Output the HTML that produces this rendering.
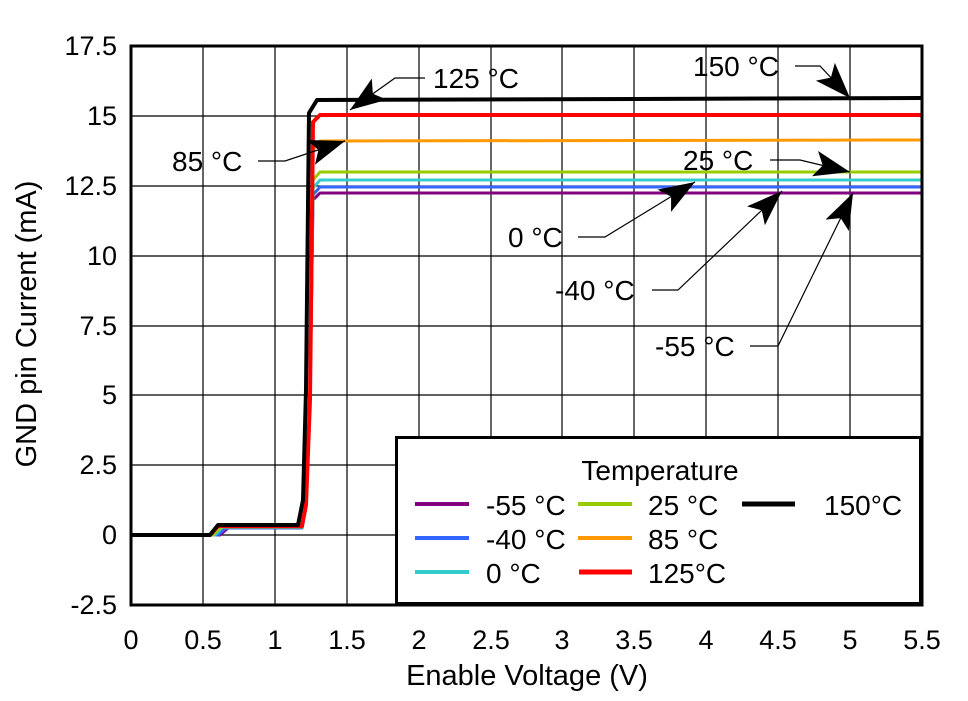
<!DOCTYPE html>
<html><head><meta charset="utf-8"><style>body{margin:0;background:#fff}svg{display:block}text{font-family:"Liberation Sans",Arial,sans-serif}</style></head><body>
<svg width="968" height="701" viewBox="0 0 968 701">
<defs><marker id="a" markerUnits="userSpaceOnUse" markerWidth="40" markerHeight="30" refX="36" refY="13" orient="auto"><path d="M0,0 L36,13 L0,26 L8,13 Z" fill="#000"/></marker></defs>
<rect width="968" height="701" fill="#fff"/>
<g stroke="#000" stroke-width="1.2">
<line x1="203" y1="46" x2="203" y2="605"/><line x1="275" y1="46" x2="275" y2="605"/><line x1="347" y1="46" x2="347" y2="605"/><line x1="419" y1="46" x2="419" y2="605"/><line x1="491" y1="46" x2="491" y2="605"/><line x1="562" y1="46" x2="562" y2="605"/><line x1="634" y1="46" x2="634" y2="605"/><line x1="706" y1="46" x2="706" y2="605"/><line x1="778" y1="46" x2="778" y2="605"/><line x1="850" y1="46" x2="850" y2="605"/>
<line x1="131" y1="116" x2="922" y2="116"/><line x1="131" y1="186" x2="922" y2="186"/><line x1="131" y1="256" x2="922" y2="256"/><line x1="131" y1="326" x2="922" y2="326"/><line x1="131" y1="395" x2="922" y2="395"/><line x1="131" y1="465" x2="922" y2="465"/><line x1="131" y1="535" x2="922" y2="535"/>
</g>
<g fill="none" stroke-width="3" stroke-linejoin="round">
<polyline stroke="#800080" points="131,535 220,535 228,528 302,528 306,505 310,400 313,200 320,193 922,193"/>
<polyline stroke="#3366ff" points="131,535 218,535 226,528 302,528 306,505 310,400 313,195 320,187 922,187"/>
<polyline stroke="#33cccc" points="131,535 215,535 223,527 302,527 306,505 310,400 313,188 320,180 922,180"/>
<polyline stroke="#99cc00" points="131,535 213,535 221,527 302,527 306,505 310,400 313,180 320,172 922,172"/>
<polyline stroke="#ff9900" points="131,535 211,535 219,526 302,526 306,505 310,400 313,150 320,141 922,140"/>
<polyline stroke="#ff0000" stroke-width="4" points="131,535 210,535 218,526 302,526 306,505 310,400 313,122 320,115 922,115"/>
<polyline stroke="#000" stroke-width="4" points="131,535 210,535 218,525 298,525 303,500 306,390 309,113 317,100 922,98"/>
</g>
<g stroke="#000" stroke-width="1.2" fill="none">
<polyline points="425,78 395,78 350,110" marker-end="url(#a)"/>
<polyline points="795,66 820,66 850,98" marker-end="url(#a)"/>
<polyline points="258,161 285,161 345,141" marker-end="url(#a)"/>
<polyline points="770,160 800,160 850,172" marker-end="url(#a)"/>
<polyline points="578,237 605,237 695,182" marker-end="url(#a)"/>
<polyline points="652,290 678,290 782,191" marker-end="url(#a)"/>
<polyline points="750,346 778,346 853,193" marker-end="url(#a)"/>
</g>
<g font-size="28" fill="#000">
<text x="433" y="88">125 °C</text><text x="693" y="76">150 °C</text><text x="172" y="171">85 °C</text><text x="683" y="170">25 °C</text><text x="508" y="247">0 °C</text><text x="555" y="300">-40 °C</text><text x="655" y="356">-55 °C</text>
</g>
<rect x="396.5" y="437.5" width="524" height="166" fill="#fff" stroke="#000" stroke-width="3"/>
<g font-size="28">
<text x="660" y="480" text-anchor="middle">Temperature</text>
<text x="486" y="515">-55 °C</text><text x="486" y="549">-40 °C</text><text x="486" y="583">0 °C</text>
<text x="648" y="515">25 °C</text><text x="648" y="549">85 °C</text><text x="648" y="583">125°C</text>
<text x="824" y="515">150°C</text>
</g>
<g stroke-width="4">
<line x1="415" y1="504" x2="469" y2="504" stroke="#800080"/><line x1="415" y1="538" x2="469" y2="538" stroke="#3366ff"/><line x1="415" y1="572" x2="469" y2="572" stroke="#33cccc"/>
<line x1="578" y1="504" x2="632" y2="504" stroke="#99cc00"/><line x1="578" y1="538" x2="632" y2="538" stroke="#ff9900"/><line x1="579" y1="572" x2="632" y2="572" stroke="#ff0000" stroke-width="5"/>
<line x1="742" y1="504" x2="795" y2="504" stroke="#000" stroke-width="5"/>
</g>
<rect x="131" y="46" width="791" height="559" fill="none" stroke="#000" stroke-width="3"/>
<g font-size="27" text-anchor="end">
<text x="117" y="55">17.5</text><text x="117" y="125">15</text><text x="117" y="195">12.5</text><text x="117" y="265">10</text><text x="117" y="335">7.5</text><text x="117" y="404">5</text><text x="117" y="474">2.5</text><text x="117" y="544">0</text><text x="117" y="614">-2.5</text>
</g>
<g font-size="27" text-anchor="middle">
<text x="131" y="649">0</text><text x="203" y="649">0.5</text><text x="275" y="649">1</text><text x="347" y="649">1.5</text><text x="419" y="649">2</text><text x="491" y="649">2.5</text><text x="562" y="649">3</text><text x="634" y="649">3.5</text><text x="706" y="649">4</text><text x="778" y="649">4.5</text><text x="850" y="649">5</text><text x="922" y="649">5.5</text>
<text x="527" y="685" font-size="29">Enable Voltage (V)</text>
<text transform="translate(36,324) rotate(-90)" font-size="29">GND pin Current (mA)</text>
</g>
</svg>
</body></html>
